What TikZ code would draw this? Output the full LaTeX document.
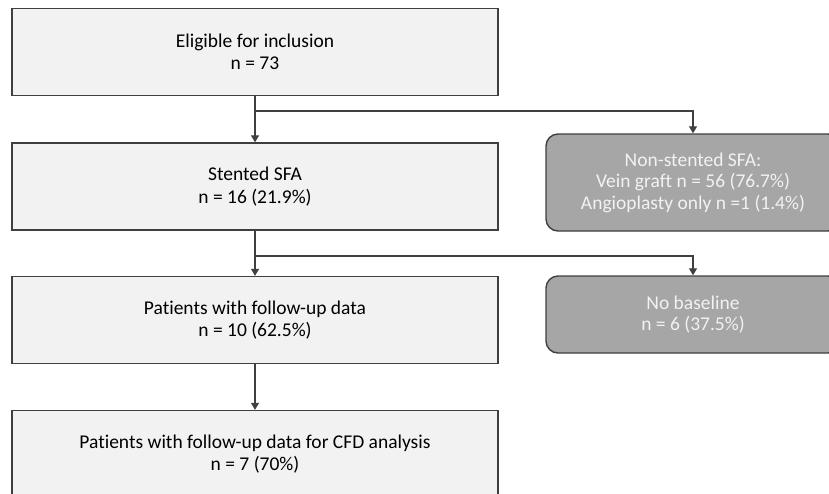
\documentclass[tikz,border=0pt]{standalone}
\usepackage{fontspec}
\setmainfont[Ligatures={NoCommon}]{Carlito}
\usetikzlibrary{arrows.meta,calc}
\definecolor{lightbox}{HTML}{F2F2F2}
\definecolor{darkbox}{HTML}{A6A6A6}
\definecolor{edgecol}{HTML}{3F3F3F}
\definecolor{linecol}{HTML}{404040}
\definecolor{ltext}{HTML}{F2F2F2}
\begin{document}
\begin{tikzpicture}[x=1pt,y=-1pt,
  mainbox/.style={draw=edgecol, line width=1.4pt, fill=lightbox, minimum width=486pt, minimum height=87pt,
    inner sep=0pt, align=center, font=\fontsize{19.5}{22.5}\selectfont, text=black},
  sidebox/.style={draw=edgecol, line width=1.4pt, fill=darkbox, rounded corners=12pt, minimum width=294pt,
    inner sep=0pt, align=center, font=\fontsize{19.5}{21.5}\selectfont, text=ltext},
  arr/.style={draw=linecol, line width=1.2pt, -{Triangle[width=8pt,length=7pt]}},
  ln/.style={draw=linecol, line width=1.2pt}]
\useasboundingbox (0,0) rectangle (829,493);
\clip (0,0) rectangle (829,493);
\fill[white] (0,0) rectangle (829,493);
\node[mainbox] (elig) at (255,52) {Eligible for inclusion\\n = 73};
\node[mainbox] (stent) at (255,186.5) {Stented SFA\\n = 16 (21.9\%)};
\node[mainbox] (fu) at (255,320) {Patients with follow-up data\\n = 10 (62.5\%)};
\node[mainbox] (cfd) at (255,454) {Patients with follow-up data for CFD analysis\\n = 7 (70\%)};
\node[sidebox, minimum height=97pt] (nonst) at (693,182.5) {Non-stented SFA:\\Vein graft n = 56 (76.7\%)\\Angioplasty only n =1 (1.4\%)};
\node[sidebox, minimum height=77pt] (nobase) at (693,314.5) {No baseline\\n = 6 (37.5\%)};
\coordinate (b1) at (255,111);
\coordinate (b2) at (255,256);
\draw[arr] (elig.south) -- (stent.north);
\draw[arr] (b1) -| (nonst.north);
\draw[arr] (stent.south) -- (fu.north);
\draw[arr] (b2) -| (nobase.north);
\draw[arr] (fu.south) -- (cfd.north);
\end{tikzpicture}
\end{document}
